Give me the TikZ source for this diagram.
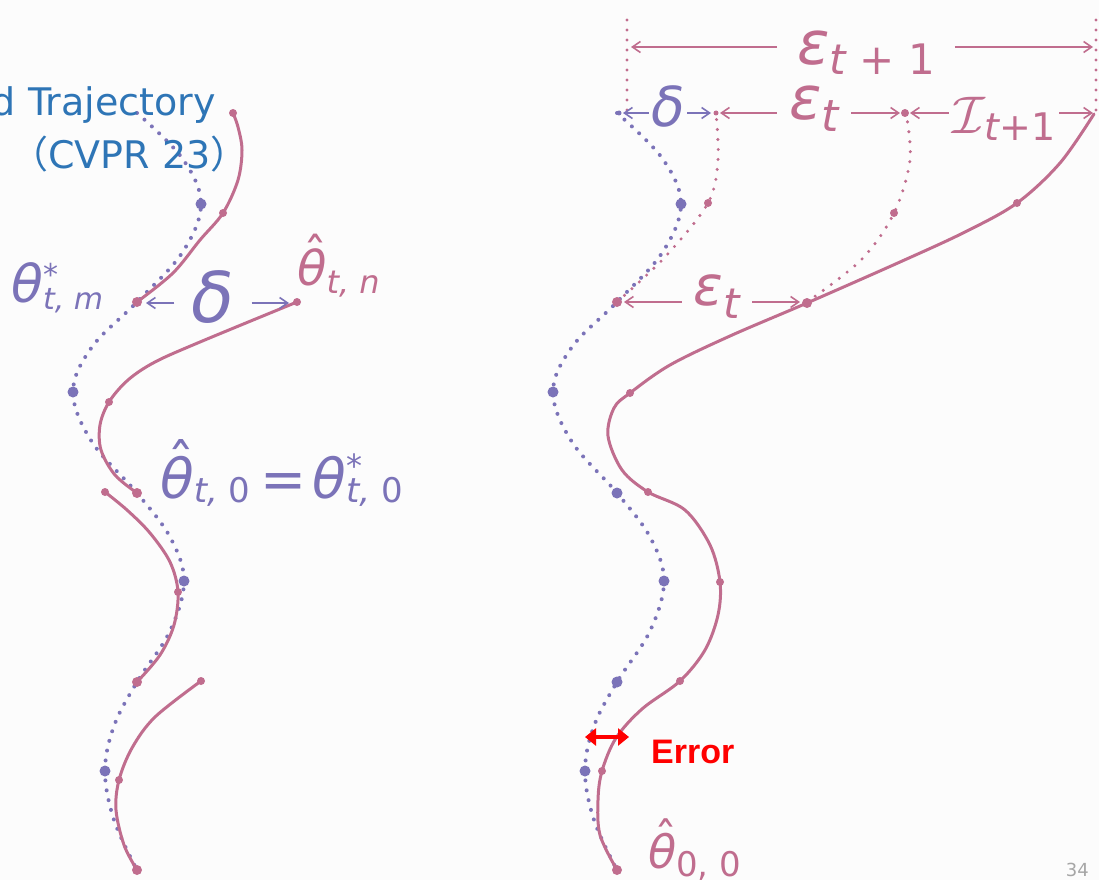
\documentclass[tikz,border=0pt]{standalone}
\usepackage{graphicx}
\usepackage{fontspec}
\setmainfont{DejaVu Sans}
\newfontfamily\gk{DejaVu Sans}
\newfontfamily\errf{Liberation Sans}
\newfontfamily\cjkf{Noto Sans CJK SC}
\usetikzlibrary{arrows.meta}
\definecolor{pur}{HTML}{7B73B8}
\definecolor{pnk}{HTML}{C06D8E}
\definecolor{ttl}{HTML}{2E75B6}
\definecolor{bgc}{HTML}{FCFCFC}
\definecolor{pgc}{HTML}{A6A6A6}
\newcommand\fs[1]{\fontsize{#1}{#1}\selectfont}
\newcommand\hth{\ooalign{θ\cr\hidewidth\kern0.16em\raisebox{0.27em}{\upshape ˆ}\hidewidth\cr}}
\tikzset{
  plab/.style={text=pnk, inner sep=0pt},
  blab/.style={text=pur, inner sep=0pt},
  pline/.style={draw=pnk, line width=3pt, line cap=round},
  bdots/.style={draw=pur, line width=4pt, line cap=round, dash pattern=on 0pt off 10pt},
  pdots/.style={draw=pnk, line width=3.4pt, line cap=round, dash pattern=on 0pt off 10pt},
  parr/.style={draw=pnk, line width=1.6pt, -{Straight Barb[length=8pt,width=11pt]}},
  barr/.style={draw=pur, line width=1.6pt, -{Straight Barb[length=8pt,width=11pt]}},
  bdot/.style={circle, fill=pur, inner sep=0pt, minimum size=11pt},
  pdotB/.style={circle, fill=pnk, inner sep=0pt, minimum size=10pt},
  pdotS/.style={circle, fill=pnk, inner sep=0pt, minimum size=8pt},
}
\begin{document}
\begin{tikzpicture}[x=1pt,y=-1pt]
\useasboundingbox (0,0) rectangle (1099,880);
\fill[bgc] (0,0) rectangle (1099,880);
\clip (0,0) rectangle (1099,880);

% ---------- LEFT PANEL ----------
\draw[bdots] plot[smooth, tension=0.6] coordinates {(137,113) (182,158) (201,204) (182,253) (137,302) (92,347) (73,392) (92,442) (137,493) (170,537) (184,581) (170,631) (137,682) (114,726) (105,771) (114,820) (137,870)};
\draw[pline] plot[smooth, tension=0.55] coordinates {(137,302) (173,273) (200,240) (223,213) (238,180) (242,150) (238,127) (233,113)};
\draw[pline] plot[smooth, tension=0.55] coordinates {(137,493) (115,475) (101,450) (100,425) (109,402) (128,380) (155,362) (200,342) (297,302)};
\draw[pline] plot[smooth, tension=0.55] coordinates {(137,682) (160,655) (174,625) (178,592) (170,562) (150,533) (127,510) (105,492)};
\draw[pline] plot[smooth, tension=0.55] coordinates {(137,870) (124,845) (116,810) (119,780) (132,748) (155,717) (201,681)};

\foreach \x/\y [count=\i] in {201/204, 73/392, 184/581, 105/771}
  \node[bdot] (lb\i) at (\x,\y) {};
\foreach \x/\y [count=\i] in {137/302, 137/493, 137/682, 137/870}
  \node[pdotB] (lp\i) at (\x,\y) {};
\foreach \x/\y [count=\i] in {223/213, 233/113, 297/302, 109/402, 105/492, 178/592, 201/681, 119/780}
  \node[pdotS] (ls\i) at (\x,\y) {};

% ---------- RIGHT PANEL ----------
\draw[bdots] plot[smooth, tension=0.6] coordinates {(617,113) (662,158) (681,204) (662,253) (617,302) (572,347) (553,392) (572,442) (617,493) (650,537) (664,581) (650,631) (617,682) (594,726) (585,771) (594,820) (617,870)};
\draw[pdots] plot[smooth, tension=0.55] coordinates {(617,302) (665,257) (708,203) (718,160) (716,113)};
\draw[pdots] plot[smooth, tension=0.55] coordinates {(807,302) (861,260) (894,213) (910,160) (906,113)};
\draw[pline] plot[smooth, tension=0.55] coordinates {(617,870) (600,835) (598,800) (602,771) (616,738) (642,709) (680,681) (705,650) (718,615) (720,582) (710,545) (685,510) (648,492) (622,470) (608,436) (614,408) (630,393) (670,365) (730,336) (807,303) (900,262) (965,232) (1017,203) (1060,163) (1094,114)};

\coordinate (vT1) at (627,20); \coordinate (vB1) at (627,113);
\coordinate (vT2) at (1096,20); \coordinate (vB2) at (1096,113);
\draw[pdots] (vT1) -- (vB1);
\draw[pdots] (vT2) -- (vB2);

\foreach \x/\y [count=\i] in {681/204, 553/392, 617/493, 664/581, 617/682, 585/771}
  \node[bdot] (rb\i) at (\x,\y) {};
\foreach \x/\y [count=\i] in {617/302, 807/303, 617/870}
  \node[pdotB] (rp\i) at (\x,\y) {};
\foreach \x/\y [count=\i] in {708/203, 894/213, 1017/203, 630/393, 648/492, 720/582, 680/681, 602/771, 905/113}
  \node[pdotS] (rs\i) at (\x,\y) {};
\node[circle, fill=pur, inner sep=0pt, minimum size=5pt] (rtop) at (619,113) {};
\node[circle, fill=pnk, inner sep=0pt, minimum size=5pt] (rtop2) at (716,113) {};

% ---------- LABELS ----------
\node[text=ttl, anchor=base east, inner sep=0pt, font=\fs{38}] (t1) at (216,115) {d Trajectory};
\node[text=ttl, anchor=base west, inner sep=0pt, font=\fs{38}] (t2) at (10,168) {{\cjkf （}CVPR 23{\cjkf ）}};

\node[blab, anchor=base west, font=\gk\itshape\fs{52}] (thm) at (11,302)
  {θ\rlap{\raisebox{17pt}{\fs{30}*}}\raisebox{-7pt}{\fs{30}t, m}};
\node[blab, anchor=base, inner xsep=17pt, font=\gk\itshape\fs{70}] (dl) at (213,322) {δ};
\coordinate (cL) at (146,303); \coordinate (cR) at (289,303);
\draw[barr] (dl.west |- cL) -- (cL);
\draw[barr] (dl.east |- cR) -- (cR);
\node[plab, anchor=base west, font=\gk\itshape\fs{48}] (thn) at (297,285)
  {\hth\raisebox{-8pt}{\fs{32}t, n}};
\node[blab, anchor=base west, font=\gk\itshape\fs{55}] (thz) at (160,498)
  {\hth\raisebox{-4pt}{\fs{34}t, \upshape 0}\kern10pt{\upshape =}\kern6pt θ\rlap{\raisebox{21pt}{\fs{32}*}}\raisebox{-4pt}{\fs{34}t, \upshape 0}};

\node[plab, anchor=base, inner xsep=20pt, font=\gk\itshape\fs{60}] (Etp) at (866,65)
  {ε\raisebox{-10pt}{\fs{42}t {\upshape + 1}}};
\coordinate (eL) at (631,47); \coordinate (eR) at (1093,47);
\draw[parr] (Etp.west |- eL) -- (eL);
\draw[parr] (Etp.east |- eR) -- (eR);

\node[blab, anchor=base, inner xsep=2pt, font=\gk\itshape\fs{55}] (dT) at (668,127) {δ};
\coordinate (dTL) at (623,113); \coordinate (dTR) at (711,113);
\draw[barr] (dT.west |- dTL) -- (dTL);
\draw[barr] (dT.east |- dTR) -- (dTR);

\node[plab, anchor=base, inner xsep=12pt, font=\gk\itshape\fs{60}] (eT) at (814,120)
  {ε\raisebox{-12pt}{\fs{44}t}};
\coordinate (etL) at (720,113); \coordinate (etR) at (900,113);
\draw[parr] (eT.west |- etL) -- (etL);
\draw[parr] (eT.east |- etR) -- (etR);

\node[plab, anchor=base, inner xsep=3pt, font=\gk\itshape\fs{38}] (iT) at (1004,133)
  {\scalebox{5.3}{\fontsize{10}{10}\selectfont$\mathcal{I}$}\raisebox{-7pt}{t{\upshape +1}}};
\coordinate (iL) at (910,113); \coordinate (iR) at (1093,113);
\draw[parr] (iT.west |- iL) -- (iL);
\draw[parr] (iT.east |- iR) -- (iR);

\node[plab, anchor=base, inner xsep=12pt, font=\gk\itshape\fs{55}] (eM) at (717,305)
  {ε\raisebox{-13pt}{\fs{42}t}};
\coordinate (mL) at (624,302); \coordinate (mR) at (800,302);
\draw[parr] (eM.west |- mL) -- (mL);
\draw[parr] (eM.east |- mR) -- (mR);

\node[plab, anchor=base west, font=\gk\itshape\fs{46}] (thoo) at (648,868)
  {\hth\raisebox{-8pt}{\fs{34}\upshape 0, 0}};

\coordinate (erA) at (585,737); \coordinate (erB) at (629,737);
\draw[red, line width=4pt, {Triangle[length=11pt,width=17pt]}-{Triangle[length=11pt,width=17pt]}] (erA) -- (erB);
\node[anchor=base west, inner sep=0pt, text=red, font=\errf\bfseries\fs{34}] (err) at (651,763) {Error};

\node[anchor=base east, inner sep=0pt, text=pgc, font=\fs{18}] (pg) at (1089,876) {34};
\end{tikzpicture}
\end{document}
